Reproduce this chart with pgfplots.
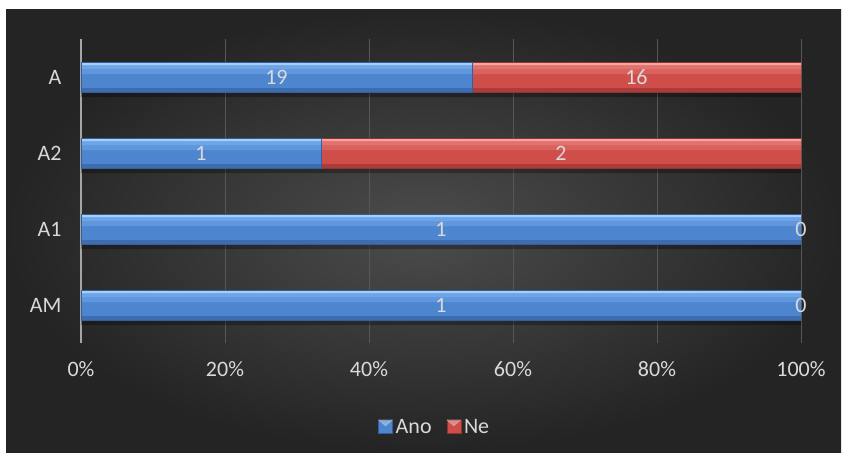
\documentclass[border=0pt]{standalone}
\usepackage{fontspec}
\setmainfont{Carlito}
\usepackage{pgfplots}
\pgfplotsset{compat=1.18}
\definecolor{bgin}{HTML}{4C4C4C}
\definecolor{bgout}{HTML}{242424}
\definecolor{gridc}{HTML}{575757}
\definecolor{axisc}{HTML}{A6A6A6}
\definecolor{labc}{HTML}{D9D9D9}
\definecolor{bluetop}{HTML}{A6CFF7}
\definecolor{bluehi}{HTML}{6FA5E6}
\definecolor{bluemid}{HTML}{4D86CF}
\definecolor{bluebot}{HTML}{3D6DAE}
\definecolor{blueedge}{HTML}{33609C}
\definecolor{redtop}{HTML}{F6A5A1}
\definecolor{redhi}{HTML}{E2726E}
\definecolor{redmid}{HTML}{CF4E4A}
\definecolor{redbot}{HTML}{AC3C39}
\definecolor{rededge}{HTML}{913430}
\pgfplotstableread{
y ano ne
0 100 0
1 100 0
2 33.3333 66.6667
3 54.2857 45.7143
}\bars
\pgfplotstableread{
x y lab
27.1429 3 19
77.1429 3 16
16.6667 2 1
66.6667 2 2
50 1 1
100 1 0
50 0 1
100 0 0
}\labels
\pgfplotsset{
  geom/.style={at={(81pt,116pt)}, anchor=south west,
    scale only axis, width=720pt, height=304pt,
    xmin=0, xmax=100, ymin=-0.5, ymax=3.5},
  layer/.style={geom, hide axis, xbar stacked},
}
\newcommand\barlayer[5]{%
\begin{axis}[layer, bar width=#1, bar shift=#2]
\addplot[draw=none, fill=#3, #5] table[x=ano, y=y] {\bars};
\addplot[draw=none, fill=#4, #5] table[x=ne, y=y] {\bars};
\end{axis}}
\begin{document}
\begin{tikzpicture}[x=1pt,y=1pt]
\fill[white] (0,0) rectangle (847,459);
\shade[inner color=bgin, outer color=bgout] (6,7) rectangle (841,449);
\begin{axis}[
  geom,
  xbar stacked, bar width=30pt,
  ytick={0,1,2,3}, yticklabels={AM,A1,A2,A},
  xtick={0,20,40,60,80,100},
  xticklabels={0\%,20\%,40\%,60\%,80\%,100\%},
  xmajorgrids, grid style={draw=gridc, line width=1pt},
  axis lines*=left,
  x axis line style={draw=none},
  y axis line style={draw=axisc, line width=1.8pt},
  major tick length=0pt,
  tick label style={font=\fontsize{22}{26}\selectfont, text=labc},
  xticklabel style={yshift=-15pt},
  yticklabel style={xshift=-16pt},
  legend style={at={(0.492,-0.276)}, anchor=center, draw=none, fill=none,
    text=labc, font=\fontsize{22}{26}\selectfont,
    nodes={inner xsep=3pt},
    /tikz/every even column/.append style={column sep=12pt}},
  legend columns=2,
  legend image code/.code={\path[#1] (0pt,-6pt) rectangle (14pt,7pt);
    \fill[white, opacity=0.35] (0pt,7pt) -- (14pt,7pt) -- (7pt,1pt) -- cycle;},
]
\addplot[draw=none, fill=none, forget plot] table[x=ano, y=y] {\bars};
\addplot[draw=none, fill=none, forget plot] table[x=ne, y=y] {\bars};
\addlegendimage{draw=blueedge, fill=bluemid}
\addlegendimage{draw=rededge, fill=redmid}
\legend{Ano, Ne}
\end{axis}
% shadow
\barlayer{6pt}{-17pt}{black}{black}{opacity=0.3}
% main body
\barlayer{30pt}{0pt}{bluemid}{redmid}{}
% upper highlight bands
\barlayer{6pt}{6pt}{bluehi!55!bluemid}{redhi!55!redmid}{}
\barlayer{4pt}{10pt}{bluehi}{redhi}{}
\barlayer{3pt}{13.5pt}{bluetop}{redtop}{}
% lower darker band
\barlayer{4pt}{-13pt}{bluebot}{redbot}{}
% outlines
\begin{axis}[layer, bar width=30pt]
\addplot[draw=blueedge, line width=0.6pt, fill=none] table[x=ano, y=y] {\bars};
\addplot[draw=rededge, line width=0.6pt, fill=none] table[x=ne, y=y] {\bars};
\end{axis}
% data labels
\begin{axis}[geom, hide axis, clip=false]
\addplot[only marks, mark=none, nodes near coords, point meta=explicit symbolic,
  every node near coord/.style={anchor=center, font=\fontsize{22}{26}\selectfont, text=labc}]
  table[x=x, y=y, meta=lab] {\labels};
\end{axis}
\end{tikzpicture}
\end{document}
